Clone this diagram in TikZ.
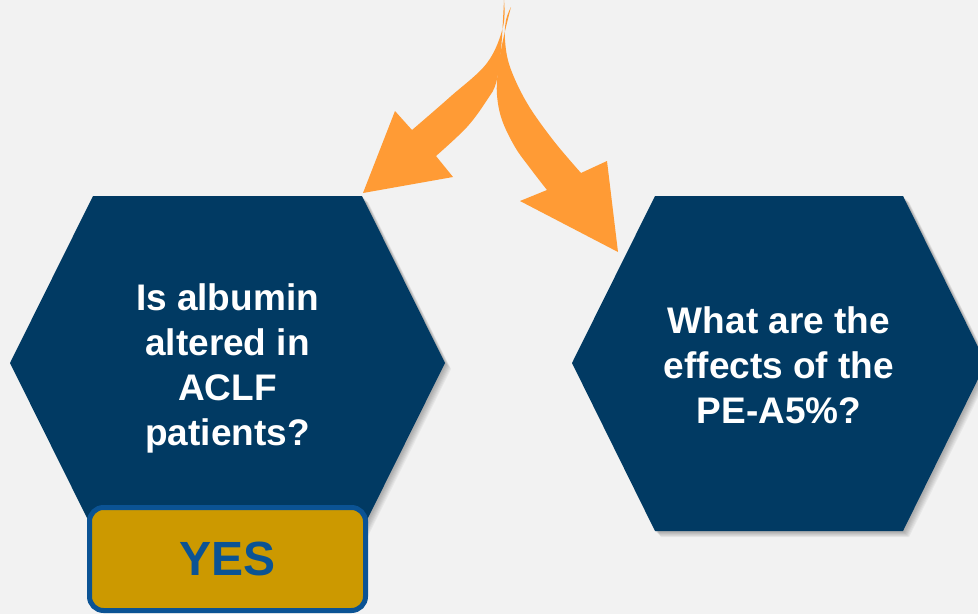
\documentclass[tikz,border=0pt]{standalone}
\usepackage{fontspec}
\setmainfont{Liberation Sans}
\definecolor{bg}{HTML}{F2F2F2}
\definecolor{hexblue}{HTML}{013A63}
\definecolor{arroworange}{HTML}{FF9B35}
\definecolor{gold}{HTML}{CC9900}
\definecolor{yesblue}{HTML}{0B5394}
\tikzset{
  qtext/.style={text=white, font=\fontsize{37}{45}\selectfont\bfseries, align=center, inner sep=0pt},
  yesbox/.style={draw=yesblue, line width=5pt, fill=gold, rounded corners=14pt,
    minimum width=276pt, minimum height=103pt, text=yesblue,
    font=\fontsize{48}{50}\selectfont\bfseries, inner sep=0pt},
  hexfill/.style={fill=hexblue},
  shadowlayer/.style={fill=black, opacity=0.045},
  arrowfill/.style={fill=arroworange}
}
\begin{document}
\begin{tikzpicture}[x=1pt,y=-1pt]
\fill[bg] (0,0) rectangle (978,614);
\useasboundingbox (0,0) rectangle (978,614);
\clip (0,0) rectangle (978,614);
% shadows
\foreach \d in {1,...,7} {
  \fill[shadowlayer, shift={(\d*0.8+0.5,\d*0.8+0.5)}] (93,196) -- (362,196) -- (445,363) -- (362,530) -- (93,530) -- (10,363) -- cycle;
  \fill[shadowlayer, shift={(\d*0.8+0.5,\d*0.8+0.5)}] (655,196) -- (903,196) -- (986,363) -- (903,531) -- (655,531) -- (572,363) -- cycle;
}
% hexagons
\fill[hexfill] (93,196) -- (362,196) -- (445,363) -- (362,530) -- (93,530) -- (10,363) -- cycle;
\fill[hexfill] (655,196) -- (903,196) -- (986,363) -- (903,531) -- (655,531) -- (572,363) -- cycle;
% texts
\node[qtext] (q1) at (227.5,368) {Is albumin\\altered in\\ACLF\\patients?};
\node[qtext] (q2) at (779,365) {What are the\\effects of the\\PE-A5\%?};
% YES box
\node[yesbox] (yes) at (227.5,559) {YES};
% arrows
\fill[arrowfill] (504,0) -- plot[smooth,tension=0.6] coordinates {(504,0)(503,27)(487,63)(450,97)(412,130)}
  -- (395,111) -- (363,193) -- (453,177) -- (436,156)
  -- plot[smooth,tension=0.6] coordinates {(436,156)(467,127)(487,100)(496,83)(501,50)(504,0)} -- cycle;
\fill[arrowfill] (511,7) -- plot[smooth,tension=0.6] coordinates {(511,7)(503,40)(498,70)(497,95)(502,120)(515,147)(530,168)(547,190)}
  -- (520,201) -- (618,252) -- (607,161) -- (581,173)
  -- plot[smooth,tension=0.6] coordinates {(581,173)(553,140)(527,103)(510,67)(505,40)(506,20)(511,7)} -- cycle;
\end{tikzpicture}
\end{document}
